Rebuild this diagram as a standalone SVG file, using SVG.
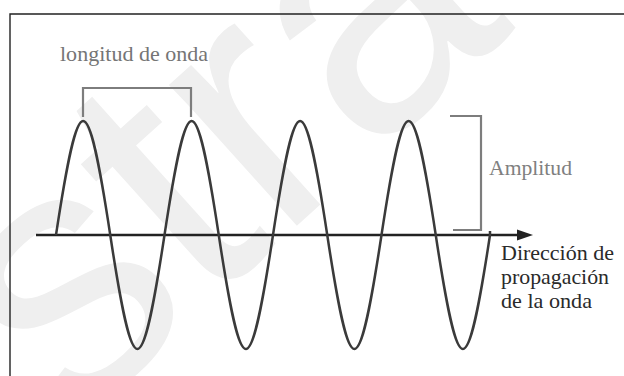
<svg xmlns="http://www.w3.org/2000/svg" width="624" height="376" viewBox="0 0 624 376">
  <style>
    .lbl { font-family: 'Times New Roman', Times, 'DejaVu Serif', 'Liberation Serif', 'Noto Serif', serif; font-size: 22px; }
    .gray { fill: #757575; }
    .dark { fill: #2a2a2a; }
    .brk { fill: none; stroke: #7d7d7d; stroke-width: 2.2; }
    .wm { font-family: 'Liberation Sans', Arial, sans-serif; font-size: 360px; fill: #efefef; }
  </style>
  <rect width="624" height="376" fill="#ffffff"/>
  <g id="watermark">
    <text class="wm" transform="translate(70,430) rotate(-42)" x="-700" y="0">Muestra</text>
  </g>
  <g id="frame">
    <path d="M10,376 V14 H624" fill="none" stroke="#222" stroke-width="1.4"/>
  </g>
  <g id="connectors">
    <g id="axis">
      <line x1="36" y1="235" x2="520" y2="235" stroke="#222" stroke-width="2.6"/>
      <polygon points="517,229.5 533,235 517,240.5" fill="#222"/>
    </g>
    <g id="wave">
      <path d="M56,235 c23.02,-152 31.23,-152 54.25,0 c23.02,152 31.23,152 54.25,0 c23.02,-152 31.23,-152 54.25,0 c23.02,152 31.23,152 54.25,0 c23.02,-152 31.23,-152 54.25,0 c23.02,152 31.23,152 54.25,0 c23.02,-152 31.23,-152 54.25,0 c23.02,152 31.23,152 54.25,0 l0,-4" fill="none" stroke="#3a3a3a" stroke-width="2.5"/>
    </g>
    <g id="wavelength-bracket">
      <path class="brk" d="M83,117 V88 H191 V117"/>
    </g>
    <g id="amplitude-bracket">
      <path class="brk" d="M450,116 H481 V230 H453" stroke-width="2.6"/>
    </g>
  </g>
  <g id="label-wavelength">
    <text class="lbl gray" x="60" y="61" textLength="148" lengthAdjust="spacingAndGlyphs">longitud de onda</text>
  </g>
  <g id="label-amplitude">
    <text class="lbl gray" x="489" y="175" textLength="83" lengthAdjust="spacingAndGlyphs" style="fill:#808080">Amplitud</text>
  </g>
  <g id="label-direction">
    <text class="lbl dark" x="501" y="260" textLength="113" lengthAdjust="spacingAndGlyphs">Dirección de</text>
    <text class="lbl dark" x="501" y="284" textLength="108" lengthAdjust="spacingAndGlyphs">propagación</text>
    <text class="lbl dark" x="501" y="308" textLength="91" lengthAdjust="spacingAndGlyphs">de la onda</text>
  </g>
</svg>
